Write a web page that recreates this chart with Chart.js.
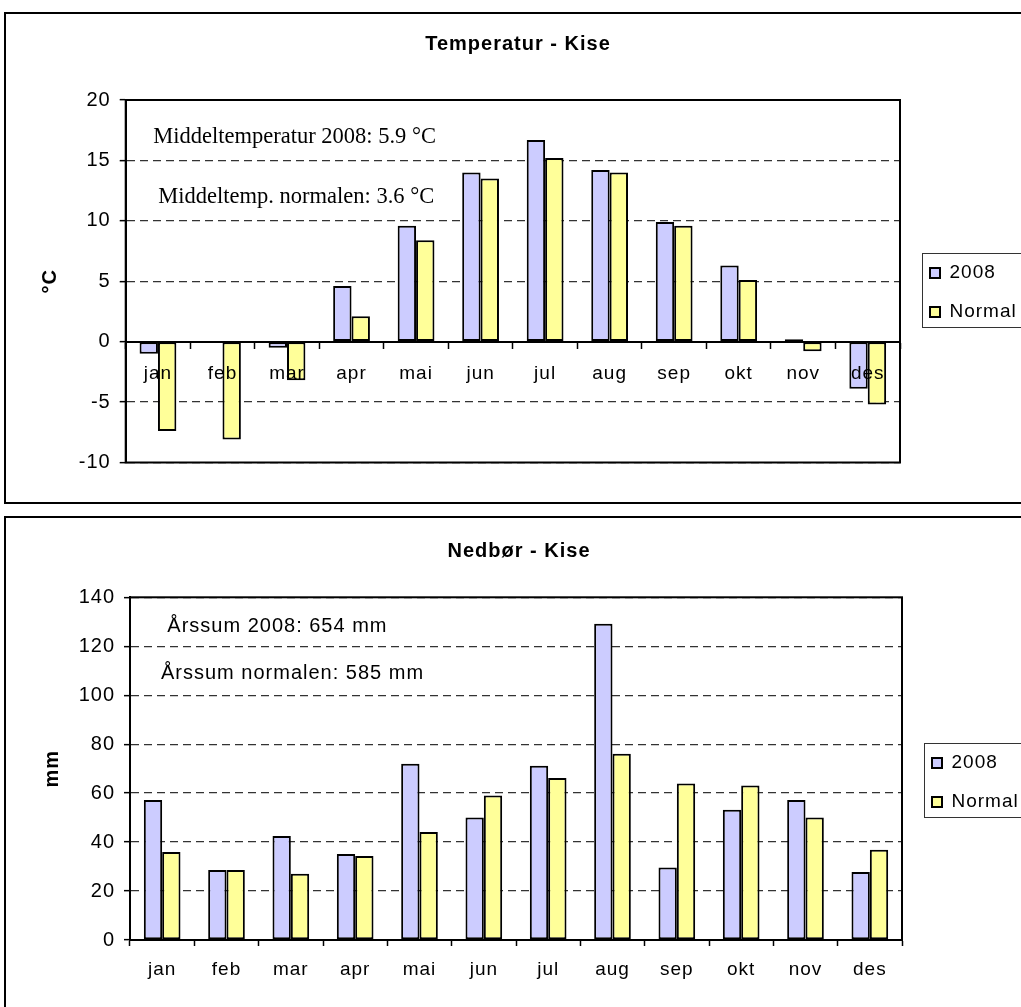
<!DOCTYPE html>
<html><head><meta charset="utf-8">
<script src="https://cdn.jsdelivr.net/npm/chart.js@4.4.1/dist/chart.umd.min.js"></script>
<style>
html,body{margin:0;padding:0;background:#fff;overflow:hidden;width:1021px;height:1007px;}
.frame{position:absolute;border:2px solid #000;box-sizing:border-box;}
#f1{left:4px;top:12px;width:1100px;height:492px;}
#f2{left:4px;top:516px;width:1100px;height:600px;}
canvas{position:absolute;}
#c1{left:6px;top:15px;}
#c2{left:6px;top:519px;}
</style></head>
<body>
<div class="frame" id="f1"></div>
<div class="frame" id="f2"></div>
<canvas id="c1" width="1026" height="487"></canvas>
<canvas id="c2" width="1026" height="488"></canvas>
<script>
const months = ['jan','feb','mar','apr','mai','jun','jul','aug','sep','okt','nov','des'];
const seriesNames = ['2008','Normal'];
const temp2008 = [-1.0, 0.0, -0.5, 4.6, 9.6, 14.0, 16.7, 14.2, 9.9, 6.3, 0.2, -3.9];
const tempNormal = [-7.4, -8.1, -3.2, 2.1, 8.4, 13.5, 15.2, 14.0, 9.6, 5.1, -0.8, -5.2];
const prec2008 = [57.2, 28.6, 42.5, 35.1, 72.0, 50.0, 71.2, 129.2, 29.6, 53.2, 57.2, 27.8];
const precNormal = [36.0, 28.6, 27.1, 34.3, 44.1, 59.0, 66.2, 76.1, 63.9, 63.1, 50.0, 36.9];
const tempTicks = {min: -10, max: 20, step: 5};
const precTicks = {min: 0, max: 140, step: 20};
const tempTitle = 'Temperatur - Kise';
const precTitle = 'Nedbør - Kise';
const tempUnit = '°C';
const precUnit = 'mm';
const tempNotes = ['Middeltemperatur 2008: 5.9 °C', 'Middeltemp. normalen: 3.6 °C'];
const precNotes = ['Årssum 2008: 654 mm', 'Årssum normalen: 585 mm'];

const SANS = "'Liberation Sans', Arial, sans-serif";
const SERIF = "'Liberation Serif', 'Times New Roman', serif";
const COL1 = '#CCCCFF', COL2 = '#FFFF99';
Chart.defaults.font.family = SANS;
Chart.defaults.color = '#000';

const spacing = {
  id: 'spacing',
  beforeDraw(chart) { chart.ctx.letterSpacing = '1px'; },
  afterDraw(chart) { chart.ctx.letterSpacing = '0px'; }
};

const plotFrame = {
  id: 'plotFrame',
  beforeDatasetsDraw(chart) {
    const {ctx, chartArea: a} = chart;
    ctx.save();
    ctx.strokeStyle = '#000'; ctx.lineWidth = 2;
    ctx.strokeRect(a.left, a.top, a.right - a.left, a.bottom - a.top);
    ctx.restore();
  }
};

const notes = {
  id: 'notes',
  afterDatasetsDraw(chart, args, opts) {
    const {ctx, chartArea: a} = chart;
    ctx.save();
    ctx.fillStyle = '#000';
    ctx.font = opts.font;
    ctx.letterSpacing = opts.spacing;
    ctx.textBaseline = 'alphabetic';
    ctx.textAlign = 'left';
    opts.lines.forEach((t, i) => ctx.fillText(t, a.left + opts.x[i], a.top + opts.y[i]));
    ctx.restore();
  }
};

const legendPlace = {
  id: 'legendPlace',
  beforeLayout(chart, args, opts) {
    const lg = chart.legend;
    if (lg && !lg._fixed) {
      const fit = lg.fit;
      lg.fit = function() { fit.call(this); this.width = opts.width; };
      lg._fixed = true;
    }
  },
  afterLayout(chart, args, opts) {
    const lg = chart.legend;
    const dx = chart.chartArea.right + opts.dx - lg.left;
    lg.left += dx; lg.right += dx;
    lg.top += opts.dy; lg.bottom += opts.dy;
  },
  afterDraw(chart) {
    const lg = chart.legend, hb = lg.legendHitBoxes, ctx = chart.ctx;
    if (!hb || hb.length < 2) return;
    const top = hb[0].top - 11, bottom = hb[1].top + hb[1].height + 5;
    ctx.save();
    ctx.strokeStyle = '#333'; ctx.lineWidth = 1;
    ctx.strokeRect(Math.round(hb[0].left - 8) + 0.5, Math.round(top) + 0.5, 300, Math.round(bottom - top));
    ctx.restore();
  }
};

function datasets(a, b) {
  const common = {borderColor: '#000', borderWidth: 2, borderSkipped: false, categoryPercentage: 0.57, barPercentage: 1.0};
  return [
    Object.assign({label: seriesNames[0], data: a, backgroundColor: COL1}, common),
    Object.assign({label: seriesNames[1], data: b, backgroundColor: COL2}, common)
  ];
}

function yScale(t, unit, width, titlePad) {
  return {
    min: t.min, max: t.max,
    ticks: {stepSize: t.step, color: '#000', font: {size: 20}, padding: 9},
    grid: {
      color: c => (c.tick && c.tick.value === 0) ? 'rgba(0,0,0,0)' : '#333',
      lineWidth: 1.3, tickColor: '#000', tickLength: 6, tickWidth: 1.5
    },
    border: {display: true, color: '#000', width: 2, dash: [8, 5]},
    title: {display: true, text: unit, color: '#000', font: {size: 20, weight: 'bold'}, padding: {top: titlePad, bottom: 0}},
    afterFit(s) { s.width = width; }
  };
}

function legendOpts() {
  return {
    position: 'right',
    labels: {boxWidth: 10, boxHeight: 10, padding: 20, color: '#000', font: {size: 19}}
  };
}

new Chart(document.getElementById('c1'), {
  type: 'bar',
  data: {labels: months, datasets: datasets(temp2008, tempNormal)},
  options: {
    responsive: false, animation: false,
    layout: {padding: {left: 0, right: 2, top: 0, bottom: 39.5}},
    scales: {
      x: {
        position: {y: 0},
        ticks: {color: '#000', font: {size: 19}, padding: 15, z: 1},
        grid: {drawOnChartArea: false, drawTicks: true, tickLength: 6, tickColor: '#000', tickWidth: 1.5, offset: true},
        border: {color: '#000', width: 2}
      },
      y: yScale(tempTicks, tempUnit, 119.7, 32)
    },
    plugins: {
      title: {display: true, text: tempTitle, color: '#000', font: {size: 20, weight: 'bold'}, padding: {top: 17, bottom: 44}},
      legend: legendOpts(),
      tooltip: {enabled: false},
      legendPlace: {width: 130, dx: 10, dy: 53.75},
      notes: {lines: tempNotes, font: "22.5px " + SERIF, spacing: '0px', x: [27.6, 32.6], y: [43.3, 103.3]}
    }
  },
  plugins: [spacing, plotFrame, notes, legendPlace]
});

new Chart(document.getElementById('c2'), {
  type: 'bar',
  data: {labels: months, datasets: datasets(prec2008, precNormal)},
  options: {
    responsive: false, animation: false,
    layout: {padding: {left: 0, right: 0, top: 0, bottom: 0}},
    scales: {
      x: {
        ticks: {color: '#000', font: {size: 19}, padding: 12},
        grid: {drawOnChartArea: false, drawTicks: true, tickLength: 6, tickColor: '#000', tickWidth: 1.5, offset: true},
        border: {color: '#000', width: 2},
        afterFit(s) { s.height = 67; }
      },
      y: yScale(precTicks, precUnit, 124, 34)
    },
    plugins: {
      title: {display: true, text: precTitle, color: '#000', font: {size: 20, weight: 'bold'}, padding: {top: 20, bottom: 34.3}},
      legend: legendOpts(),
      tooltip: {enabled: false},
      legendPlace: {width: 130, dx: 10, dy: 19.5},
      notes: {lines: precNotes, font: "20px " + SANS, spacing: '1px', x: [37.3, 31], y: [34.4, 82]}
    }
  },
  plugins: [spacing, plotFrame, notes, legendPlace]
});
</script>
</body></html>
